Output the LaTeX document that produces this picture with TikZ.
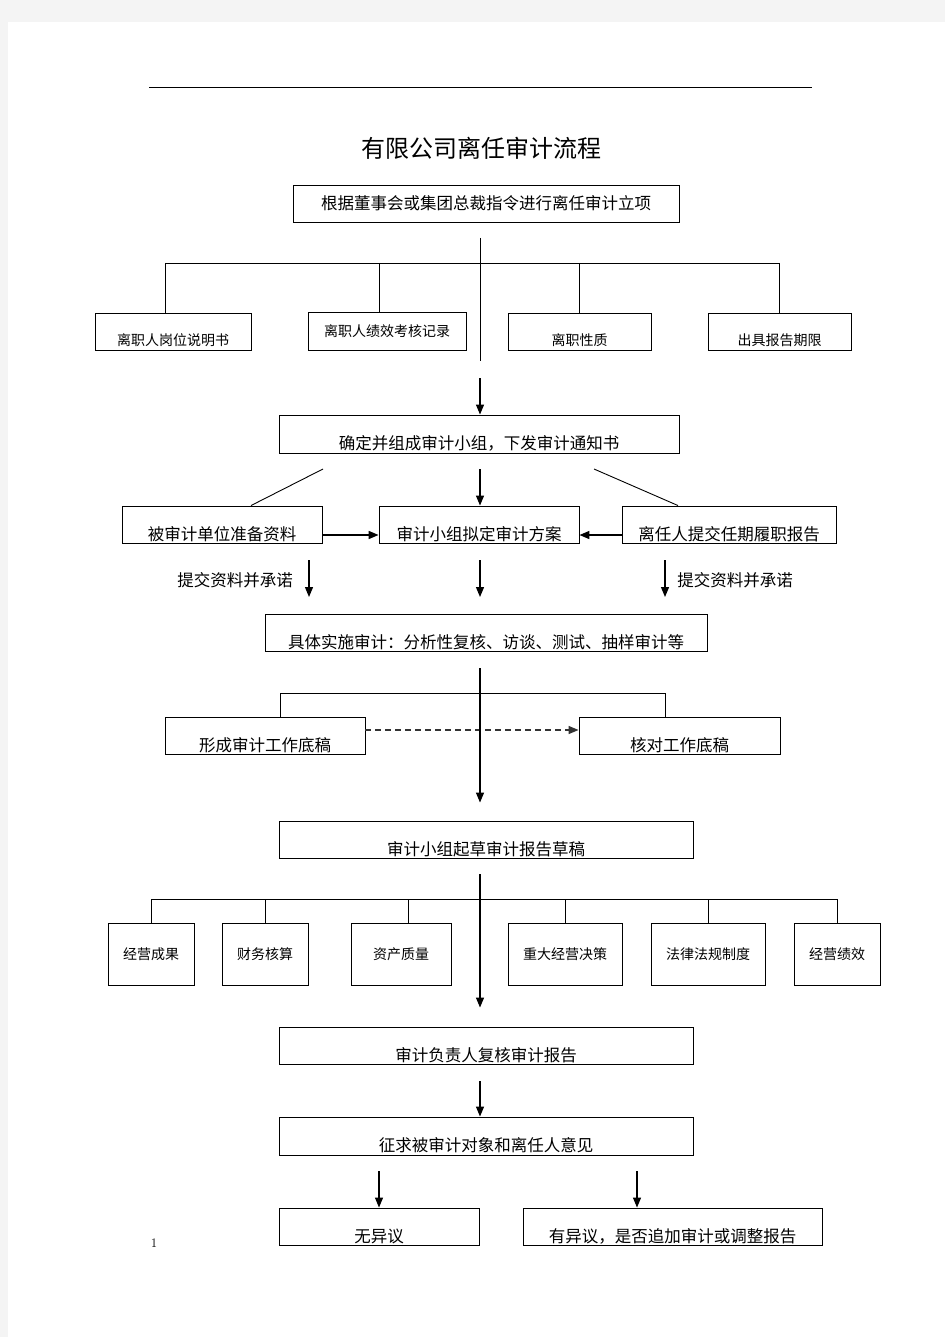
\documentclass[tikz,border=0pt]{standalone}
\usepackage{fontspec}
\newfontfamily\cjk{Noto Sans CJK SC}
\usetikzlibrary{arrows.meta}
\definecolor{pagegray}{RGB}{244,244,244}

\begin{document}
\begin{tikzpicture}[x=1pt, y=-1pt, line width=0.9pt,
    proc/.style={draw, inner sep=0pt, minimum height=37pt, font=\cjk\fontsize{16.5}{18}\selectfont},
    proclow/.style={proc, text height=31pt, text depth=0pt},
    item/.style={proc, font=\cjk\fontsize{14}{16}\selectfont},
    itemlow/.style={item, text height=28pt, text depth=0pt},
    arr/.style={line width=1.2pt, -{Triangle[length=10pt,width=8pt]}}]
    \useasboundingbox (0,0) rectangle (945,1337);
    \fill[pagegray] (0,0) rectangle (945,1337);
    \fill[white] (8,22) rectangle (945,1337);
    \draw (149,87) -- (812,87);
    \node[font=\cjk\fontsize{24}{26}\selectfont] (title) at (481,148) {有限公司离任审计流程};
    \node[font=\fontsize{13}{14}\selectfont] (pgno) at (154,1243) {1};

    % approval and the four inputs
    \node[proc, minimum width=386pt] (start) at (486,203.5) {根据董事会或集团总裁指令进行离任审计立项};
    \node[itemlow, minimum width=156pt] (pa) at (173,331.5) {离职人岗位说明书};
    \node[item, minimum width=158pt, minimum height=38pt] (pb) at (387,331) {离职人绩效考核记录};
    \node[itemlow, minimum width=143pt] (pc) at (579.5,331.5) {离职性质};
    \node[itemlow, minimum width=143pt] (pd) at (779.5,331.5) {出具报告期限};
    \coordinate (t1) at (480,238);
    \coordinate (t2) at (480,361);
    \draw (t1) -- (t2);
    \coordinate (b1) at (165,263);
    \coordinate (b2) at (379,263);
    \coordinate (b3) at (579,263);
    \coordinate (b4) at (779,263);
    \draw (b1) -- (b4);
    \foreach \i/\n in {1/pa,2/pb,3/pc,4/pd}
      \draw (b\i) -- (b\i |- \n.north);

    % audit team
    \node[proclow, minimum width=400pt, minimum height=38pt] (team) at (479,434) {确定并组成审计小组，下发审计通知书};
    \coordinate (a1) at (480,378);
    \draw[arr] (a1) -- (a1 |- team.north);
    \node[proclow, minimum width=200pt] (prep) at (222,524.5) {被审计单位准备资料};
    \node[proclow, minimum width=200pt] (plan) at (479,524.5) {审计小组拟定审计方案};
    \node[proclow, minimum width=214pt] (duty) at (729,524.5) {离任人提交任期履职报告};
    \coordinate (d1) at (323,469);
    \coordinate (d2) at (594,469);
    \coordinate (a2) at (480,469);
    \draw (d1) -- ([xshift=29pt]prep.north);
    \draw (d2) -- ([xshift=-51pt]duty.north);
    \draw[arr] (a2) -- (a2 |- plan.north);
    \draw[arr, line width=1.6pt] ([yshift=-10.5pt]prep.east) -- ([yshift=-10.5pt]plan.west);
    \draw[arr, line width=1.6pt] ([yshift=-10.5pt]duty.west) -- ([yshift=-10.5pt]plan.east);

    % fieldwork
    \coordinate (s1) at (309,560);
    \coordinate (s2) at (480,560);
    \coordinate (s3) at (665,560);
    \foreach \i in {1,2,3}
      \draw[arr] (s\i) -- ++(0,37);
    \node[font=\cjk\fontsize{16.5}{18}\selectfont] (subl) at (235,580) {提交资料并承诺};
    \node[font=\cjk\fontsize{16.5}{18}\selectfont] (subr) at (735,580) {提交资料并承诺};
    \node[proclow, minimum width=442pt] (exec) at (486,632.5) {具体实施审计：分析性复核、访谈、测试、抽样审计等};

    % working papers
    \node[proclow, minimum width=200pt] (wp) at (265,735.5) {形成审计工作底稿};
    \node[proclow, minimum width=201pt] (chk) at (679.5,735.5) {核对工作底稿};
    \coordinate (t3) at (480,668);
    \coordinate (c1) at (280,693);
    \coordinate (c2) at (665,693);
    \draw (c1) -- (c2);
    \draw (c1) -- (c1 |- wp.north);
    \draw (c2) -- (c2 |- chk.north);
    \draw[arr, line width=1.4pt, dash pattern=on 6pt off 4pt, gray!40!black] ([yshift=5.5pt]wp.east) -- ([yshift=5.5pt]chk.west);
    \node[proclow, minimum width=414pt] (draft) at (486,839.5) {审计小组起草审计报告草稿};
    \draw[arr] (t3) -- ([yshift=18pt]t3 |- draft.north);

    % six review areas
    \foreach \n/\x/\w/\t in {r1/151/86/经营成果, r2/265/86/财务核算, r3/401/100/资产质量,
        r4/565/114/重大经营决策, r5/708/114/法律法规制度, r6/837/86/经营绩效}
      \node[item, minimum width=\w pt, minimum height=62pt] (\n) at (\x,954) {\t};
    \coordinate (e1) at (151,899);
    \coordinate (e2) at (265,899);
    \coordinate (e3) at (408,899);
    \coordinate (e4) at (565,899);
    \coordinate (e5) at (708,899);
    \coordinate (e6) at (837,899);
    \draw (e1) -- (e6);
    \foreach \i in {1,...,6}
      \draw (e\i) -- (e\i |- r\i.north);
    \node[proclow, minimum width=414pt] (review) at (486,1045.5) {审计负责人复核审计报告};
    \coordinate (t4) at (480,874);
    \draw[arr] (t4) -- ([yshift=19pt]t4 |- review.north);

    % opinions
    \node[proclow, minimum width=414pt, minimum height=38pt] (opin) at (486,1136) {征求被审计对象和离任人意见};
    \coordinate (a3) at (480,1081);
    \draw[arr] (a3) -- (a3 |- opin.north);
    \node[proclow, minimum width=200pt] (noobj) at (379,1226.5) {无异议};
    \node[proclow, minimum width=299pt] (obj) at (672.5,1226.5) {有异议，是否追加审计或调整报告};
    \coordinate (o1) at (379,1171);
    \coordinate (o2) at (637,1171);
    \draw[arr] (o1) -- (o1 |- noobj.north);
    \draw[arr] (o2) -- (o2 |- obj.north);
\end{tikzpicture}
\end{document}
